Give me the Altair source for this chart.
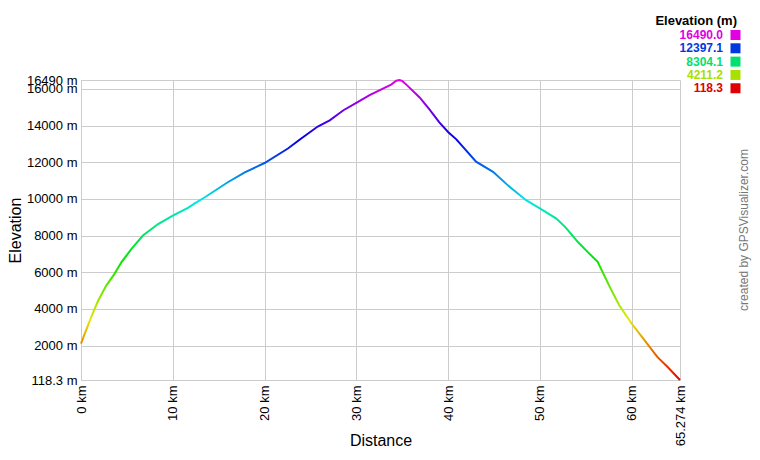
import altair as alt
import pandas as pd

# ---- data ----
distance_km = [0, 0.4, 1.1, 1.85, 2.75, 3.65, 4.4, 5.5, 6.75, 8.4, 10.0, 11.65, 12.4, 13.5,
               16.0, 17.85, 20.0, 22.55, 24.0, 25.8, 27.1, 28.6, 30.0, 31.45, 32.9, 33.8,
               34.35, 34.7, 35.0, 35.6, 36.9, 37.95, 39.05, 40.0, 40.9, 41.6, 43.05, 44.9,
               46.7, 48.5, 50.0, 51.8, 52.8, 54.2, 55.2, 56.3, 57.0, 57.7, 58.65, 60.0,
               61.4, 62.8, 63.9, 65.274]
elevation_m = [2100, 2640, 3540, 4430, 5270, 5910, 6540, 7270, 8000, 8630, 9090, 9510, 9760, 10090,
               10910, 11450, 11960, 12750, 13300, 13950, 14290, 14840, 15240, 15660, 16020, 16240,
               16450, 16490, 16440, 16170, 15540, 14900, 14180, 13650, 13250, 12850, 12030, 11480,
               10660, 9930, 9480, 8930, 8450, 7620, 7110, 6570, 5840, 5120, 4200, 3200,
               2290, 1380, 840, 118.3]

x_ticks = [0, 10, 20, 30, 40, 50, 60, 65.274]
y_ticks = [118.3, 2000, 4000, 6000, 8000, 10000, 12000, 14000, 16000, 16490]

legend_labels = ["16490.0", "12397.1", "8304.1", "4211.2", "118.3"]
legend_colors = ["#E000E0", "#0038E0", "#00E070", "#A8E000", "#E00000"]

gradient_colors = ["#E60000", "#E67300", "#E6E600", "#73E600", "#00E600", "#00E673",
                   "#00E6E6", "#0073E6", "#0000E6", "#7300E6", "#E600E6"]

FONT = "Liberation Sans"

profile = pd.DataFrame({"Distance": distance_km, "Elevation": elevation_m})
legend_df = pd.DataFrame({"label": legend_labels, "color": legend_colors,
                          "rank": list(range(len(legend_labels)))})

n = len(gradient_colors)
grad = alt.Gradient(
    gradient="linear",
    stops=[alt.GradientStop(offset=i / (n - 1), color=c) for i, c in enumerate(gradient_colors)],
    x1=0, x2=0, y1=1, y2=0,
)

line = alt.Chart(profile).mark_line(strokeWidth=2, color=grad).encode(
    x=alt.X("Distance:Q",
            scale=alt.Scale(domain=[0, 65.274], nice=False, zero=False),
            axis=alt.Axis(values=x_ticks, labelExpr="datum.value + ' km'",
                          labelAngle=270, labelAlign="right", labelBaseline="middle",
                          labelPadding=5, labelFlush=False, labelOverlap=False,
                          title="Distance", titleY=65, titleBaseline="alphabetic")),
    y=alt.Y("Elevation:Q",
            scale=alt.Scale(domain=[118.3, 16490], nice=False, zero=False),
            axis=alt.Axis(values=y_ticks, labelExpr="datum.value + ' m'",
                          labelPadding=4, labelFlush=False, labelOverlap=False,
                          title="Elevation", titleX=-61, titleY=150, titleAngle=270,
                          titleAlign="center", titleBaseline="alphabetic")),
    order="Distance:Q",
)

legend_y = alt.Y("rank:Q", scale=alt.Scale(domain=[3.38, 25.9], reverse=True, nice=False, zero=False),
                 axis=None)

legend_text = alt.Chart(legend_df).mark_text(
    align="right", baseline="middle", fontWeight="bold", fontSize=12, font=FONT
).encode(x=alt.value(642), y=legend_y, text="label:N", color=alt.Color("color:N", scale=None))

legend_sq = alt.Chart(legend_df).mark_square(size=100, opacity=1).encode(
    x=alt.value(654.5), y=legend_y, color=alt.Color("color:N", scale=None))

legend_title = alt.Chart(pd.DataFrame({"t": ["Elevation (m)"]})).mark_text(
    align="right", baseline="middle", fontWeight="bold", fontSize=13, font=FONT, color="#000"
).encode(x=alt.value(656), y=alt.value(-59), text="t:N")

credit = alt.Chart(pd.DataFrame({"t": ["created by GPSVisualizer.com"]})).mark_text(
    angle=270, align="center", baseline="alphabetic", fontSize=12, font=FONT, color="#777777"
).encode(x=alt.value(667), y=alt.value(150), text="t:N")

chart = alt.layer(line, legend_text, legend_sq, legend_title, credit).resolve_scale(
    x="independent", y="independent", color="independent"
).properties(
    width=599, height=300,
    autosize=alt.AutoSizeParams(type="none"),
    padding={"left": 73, "top": 72, "right": 72, "bottom": 67},
    background="white",
).configure_view(stroke=None).configure_axis(
    gridColor="#cccccc", domainColor="#cccccc", ticks=False,
    labelFont=FONT, labelFontSize=13, labelColor="#000000",
    titleFont=FONT, titleFontSize=16, titleFontWeight="normal", titleColor="#000000",
)

chart.save("out.html", embed_options={"renderer": "svg", "actions": False})
